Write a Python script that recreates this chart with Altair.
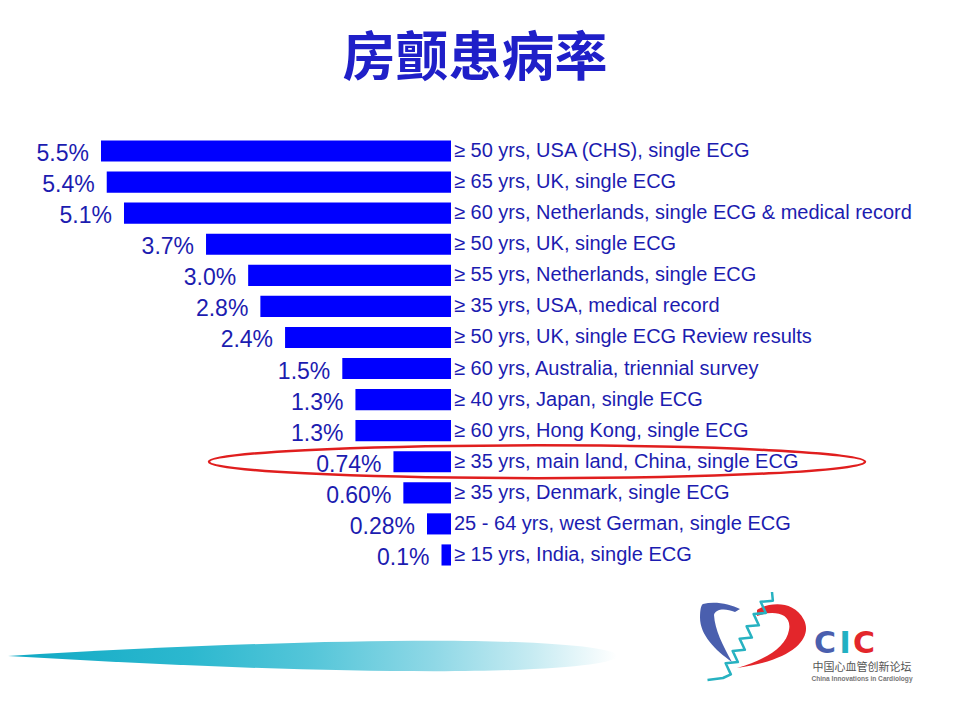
import altair as alt
import pandas as pd

# ---------------- data ----------------
categories = [
    "≥ 50 yrs, USA (CHS), single ECG",
    "≥ 65 yrs, UK, single ECG",
    "≥ 60 yrs, Netherlands, single ECG & medical record",
    "≥ 50 yrs, UK, single ECG",
    "≥ 55 yrs, Netherlands, single ECG",
    "≥ 35 yrs, USA, medical record",
    "≥ 50 yrs, UK, single ECG Review results",
    "≥ 60 yrs, Australia, triennial survey",
    "≥ 40 yrs, Japan, single ECG",
    "≥ 60 yrs, Hong Kong, single ECG",
    "≥ 35 yrs, main land, China, single ECG",
    "≥ 35 yrs, Denmark, single ECG",
    "25 - 64 yrs, west German, single ECG",
    "≥ 15 yrs, India, single ECG",
]
values = [5.5, 5.4, 5.1, 3.7, 3.0, 2.8, 2.4, 1.5, 1.3, 1.3, 0.74, 0.60, 0.28, 0.1]
value_labels = ["5.5%", "5.4%", "5.1%", "3.7%", "3.0%", "2.8%", "2.4%", "1.5%",
                "1.3%", "1.3%", "0.74%", "0.60%", "0.28%", "0.1%"]
highlight = ["≥ 35 yrs, main land, China, single ECG"]

title_text = "房颤患病率"
logo_letters = ["C", "I", "C"]
logo_colors = ["#4a5fae", "#22b0c2", "#e3262b"]
logo_cn = "中国心血管创新论坛"
logo_en = "China Innovations in Cardiology"

df = pd.DataFrame({"label": categories, "value": values, "vlabel": value_labels,
                   "zero": [0.0] * len(values)})
df_hl = pd.DataFrame({"label": highlight})

# ---------------- styles ----------------
BAR = "#0000ff"
TXT = "#1c1cb0"

xscale = alt.Scale(type="pow", exponent=0.9, domain=[0, 5.5], range=[443, 93], nice=False)
yscale = alt.Scale(domain=categories, range=[127.5, 562.5], paddingInner=0.32, paddingOuter=0.16)

base = alt.Chart(df)
Y = alt.Y("label:N", scale=yscale, axis=None, sort=None)
X = alt.X("value:Q", scale=xscale, axis=None)

bars = base.mark_bar(color=BAR).encode(x=X, x2="zero:Q", y=Y)

cat_text = base.mark_text(
    align="left", baseline="middle", dx=3, fontSize=20, font="Liberation Sans", color=TXT
).encode(x=alt.X("zero:Q", scale=xscale, axis=None), y=Y, text="label:N")

val_text = base.mark_text(
    align="right", baseline="middle", dx=-12, dy=3, fontSize=23, font="Liberation Sans", color=TXT
).encode(x=X, y=Y, text="vlabel:N")

ellipse_path = ("M-1,0 C-1,-0.0276 -0.5523,-0.05 0,-0.05 C0.5523,-0.05 1,-0.0276 1,0 "
                "C1,0.0276 0.5523,0.05 0,0.05 C-0.5523,0.05 -1,0.0276 -1,0 Z")
ellipse = alt.Chart(df_hl).mark_point(
    shape=ellipse_path, size=656 * 656, filled=False, stroke="#e01e1e", strokeWidth=2.5, opacity=1
).encode(x=alt.value(529), y=Y)

title = alt.Chart(pd.DataFrame({"t": [title_text]})).mark_text(
    fontSize=53, font="Noto Sans CJK SC", fontWeight="bold", color="#1f1fc8",
    baseline="middle", align="center"
).encode(x=alt.value(467), y=alt.value(52), text="t:N")

one = pd.DataFrame({"k": [0]})

# bottom swoosh with a left-to-right fading gradient
swoosh_path = ("M-1,0 C-0.5,-0.03 0.0,-0.05 0.4,-0.05 C0.8,-0.05 1,-0.025 1,0 "
               "C1,0.025 0.8,0.05 0.4,0.05 C0.0,0.05 -0.5,0.03 -1,0 Z")
swoosh = alt.Chart(one).mark_point(
    shape=swoosh_path, size=610 * 610, filled=True, opacity=1, strokeWidth=0,
    fill=alt.Gradient(
        gradient="linear", x1=0, x2=1, y1=0, y2=0,
        stops=[
            alt.GradientStop(offset=0, color="#10a9c4"),
            alt.GradientStop(offset=0.3, color="#2cb8cf"),
            alt.GradientStop(offset=0.5, color="#55c6d9"),
            alt.GradientStop(offset=0.7, color="#8fd8e6"),
            alt.GradientStop(offset=0.86, color="#c6ebf2"),
            alt.GradientStop(offset=1, color="#ffffff"),
        ],
    ),
).encode(x=alt.value(304), y=alt.value(648))

# logo shapes
red_path = ("M0.14,-0.5 C0.3,-0.62 0.85,-0.75 1.08,-0.3 C1.25,0.05 0.9,0.5 -0.26,0.66 "
            "C0.3,0.5 0.72,0.25 0.78,-0.1 C0.85,-0.45 0.45,-0.5 0.14,-0.38 Z")
blue_path = ("M-0.94,-0.62 C-0.7,-0.68 -0.4,-0.62 -0.2,-0.52 L-0.3,-0.46 "
             "C-0.5,-0.55 -0.7,-0.52 -0.72,-0.4 C-0.7,-0.1 -0.55,0.2 -0.36,0.54 "
             "C-0.7,0.3 -1.0,0 -1.0,-0.35 C-1.0,-0.5 -0.98,-0.6 -0.94,-0.62 Z")
helix_path = ("M0.44,-0.86 L0.457,-0.687 L0.213,-0.664 L0.317,-0.441 L0.073,-0.418 "
              "L0.177,-0.195 L-0.067,-0.173 L0.037,0.05 L-0.207,0.073 L-0.103,0.295 "
              "L-0.347,0.318 L-0.243,0.541 L-0.487,0.564 L-0.383,0.787 L-0.54,0.86 "
              "L-0.85,0.9")
logo_red = alt.Chart(one).mark_point(
    shape=red_path, size=10000, filled=True, fill="#e3262b", strokeWidth=0, opacity=1
).encode(x=alt.value(742), y=alt.value(627))
logo_blue = alt.Chart(one).mark_point(
    shape=blue_path, size=10000, filled=True, fill="#4a5fae", strokeWidth=0, opacity=1
).encode(x=alt.value(742), y=alt.value(627))
logo_helix = alt.Chart(one).mark_point(
    shape=helix_path, size=10000, filled=False, stroke="#27b2c1", strokeWidth=2.5,
    strokeJoin="round", opacity=1
).encode(x=alt.value(742), y=alt.value(627))

letter_layers = []
for ch, col, xp in zip(logo_letters, logo_colors, [817, 837, 856]):
    letter_layers.append(
        alt.Chart(pd.DataFrame({"t": [ch]})).mark_text(
            fontSize=30, font="DejaVu Sans", fontWeight="bold", baseline="middle",
            align="center", color=col
        ).encode(x=alt.value(xp), y=alt.value(636), text="t:N")
    )

cn = alt.Chart(pd.DataFrame({"t": [logo_cn]})).mark_text(
    fontSize=11, font="Noto Sans CJK SC", color="#555555", baseline="middle", align="center"
).encode(x=alt.value(854), y=alt.value(660), text="t:N")
en = alt.Chart(pd.DataFrame({"t": [logo_en]})).mark_text(
    fontSize=6.6, font="Liberation Sans", fontWeight="bold", color="#777777",
    baseline="middle", align="center"
).encode(x=alt.value(854), y=alt.value(671), text="t:N")

chart = alt.layer(
    swoosh, bars, cat_text, val_text, ellipse, title,
    logo_blue, logo_red, logo_helix, *letter_layers, cn, en
).properties(
    width=944, height=704, padding=0,
    autosize=alt.AutoSizeParams(type="none"),
    background="white",
).configure_view(stroke=None)

chart.save("out.html", embed_options={"renderer": "svg", "actions": False})
